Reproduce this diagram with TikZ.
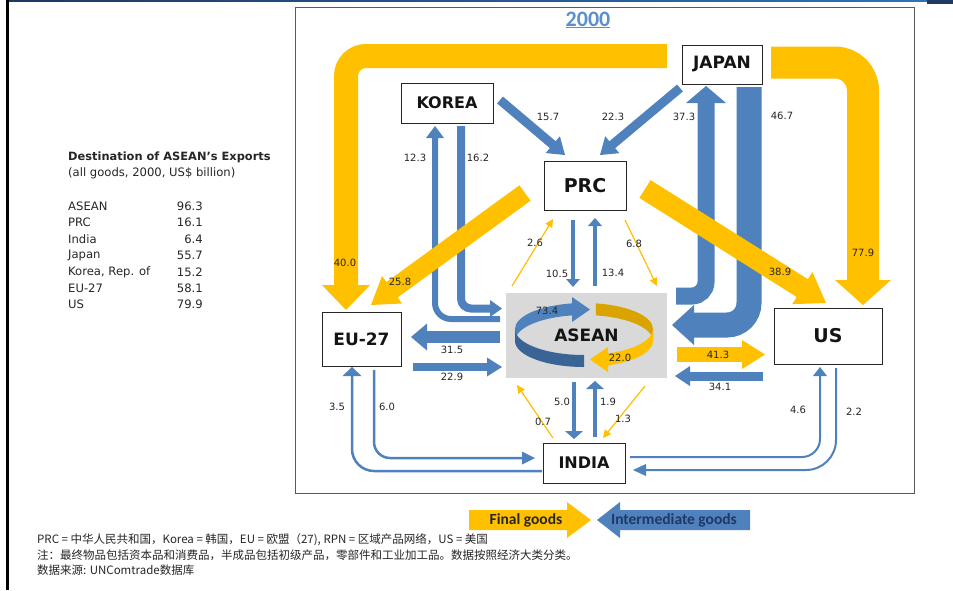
\documentclass[tikz,border=0pt]{standalone}
\usepackage{fontspec}
\setmainfont{DejaVu Sans}
\newfontfamily\calfont{Carlito}
\newfontfamily\cjk{Noto Sans CJK SC}
\usetikzlibrary{calc}
\definecolor{yel}{HTML}{FFC000}
\definecolor{yelD}{HTML}{D9A300}
\definecolor{blu}{HTML}{4F81BD}
\definecolor{bluD}{HTML}{3B6496}
\definecolor{grayA}{HTML}{D9D9D9}
\definecolor{txt}{HTML}{262626}
\definecolor{navy}{HTML}{1F3864}
\definecolor{topblue}{HTML}{2E75B6}
\definecolor{titleblue}{HTML}{5B8FD0}
% arrow head: colour, tip, point it comes from, half width, length
\newcommand\ahead[5]{\fill[#1] (#2) -- ($(#2)!#5!(#3)!#4!90:(#2)$) -- ($(#2)!#5!(#3)!#4!-90:(#2)$) -- cycle;}
\begin{document}
\begin{tikzpicture}[x=1pt,y=-1pt,
  num/.style={font=\fontsize{10}{12}\selectfont, text=txt, inner sep=0pt},
  box/.style={draw=black!85, line width=0.9pt, fill=white, text=black!92, inner sep=0pt},
  lgd/.style={font=\fontsize{11.6}{14}\selectfont, text=txt, inner sep=0pt},
  note/.style={anchor=west, font=\cjk\fontsize{11.5}{13}\selectfont, text=black!85, inner sep=0pt}]
\useasboundingbox (0,0) rectangle (953,590);
\fill[white] (0,0) rectangle (953,590);
% page decorations
\shade[left color=navy, right color=topblue] (7,0) rectangle (953,1.6);
\fill[navy] (7,0) rectangle (62,2.4);
\fill[navy] (927,0) rectangle (953,3.5);
\fill[black] (6,0) rectangle (8.5,590);
% main frame
\draw[black!65, line width=1pt] (295,7.5) rectangle (914,493);
\node[font=\calfont\fontsize{22}{26}\selectfont\bfseries, text=titleblue, inner sep=0pt] (title) at (588,20) {\underline{2000}};

% nodes
\node[box, minimum width=80pt, minimum height=39pt, font=\fontsize{17}{20}\selectfont\bfseries] (japan) at (722,64.5) {JAPAN};
\node[box, minimum width=92pt, minimum height=40pt, font=\fontsize{16}{20}\selectfont\bfseries] (korea) at (447,103) {KOREA};
\node[box, minimum width=82pt, minimum height=49pt, font=\fontsize{19}{22}\selectfont\bfseries] (prc) at (585,185.5) {PRC};
\node[box, minimum width=79pt, minimum height=54pt, font=\fontsize{17}{20}\selectfont\bfseries] (eu) at (361.5,339) {EU-27};
\node[box, minimum width=108pt, minimum height=56pt, font=\fontsize{19}{22}\selectfont\bfseries] (us) at (828,336) {US};
\node[box, minimum width=82pt, minimum height=40pt, font=\fontsize{16}{20}\selectfont\bfseries] (india) at (584,463) {INDIA};
\node[fill=grayA, minimum width=161pt, minimum height=85pt, inner sep=0pt] (asean) at (586.5,335.5) {};

% ASEAN ribbon
\coordinate (rc) at (584,329);
\fill[blu] ($(rc)+(100:69pt and 26pt)$) arc[start angle=100,end angle=180,x radius=69pt,y radius=26pt] -- ++(0pt,-12pt) arc[start angle=180,end angle=100,x radius=69pt,y radius=26pt] -- cycle;
\fill[bluD] ($(rc)+(180:69pt and 26pt)$) arc[start angle=180,end angle=270,x radius=69pt,y radius=26pt] -- ++(0pt,-12pt) arc[start angle=270,end angle=180,x radius=69pt,y radius=26pt] -- cycle;
\fill[blu] (572,297) -- (590,309.5) -- (572,322) -- cycle;
\fill[yelD] ($(rc)+(80:69pt and 26pt)$) arc[start angle=80,end angle=0,x radius=69pt,y radius=26pt] -- ++(0pt,-12pt) arc[start angle=0,end angle=80,x radius=69pt,y radius=26pt] -- cycle;
\fill[yel] ($(rc)+(0:69pt and 26pt)$) arc[start angle=0,end angle=-70,x radius=69pt,y radius=26pt] -- ++(0pt,-12pt) arc[start angle=-70,end angle=0,x radius=69pt,y radius=26pt] -- cycle;
\fill[yel] (608,347) -- (590,359.5) -- (608,372) -- cycle;
\node[font=\fontsize{17}{20}\selectfont\bfseries, text=black!92, inner sep=0pt] (aseanlbl) at (586.5,335) {ASEAN};

% ---- blue (intermediate goods) arrows
% Japan <-> ASEAN
\draw[blu, line width=17pt, rounded corners=14pt] (676,296) -- (706,296) -- (706,102);
\ahead{blu}{706,86}{706,150}{20pt}{17pt}
\draw[blu, line width=25pt, rounded corners=22pt] (749,87) -- (749,325) -- (693,325);
\ahead{blu}{672,325}{720,325}{20pt}{22pt}
% Korea -> PRC, Japan -> PRC
\draw[blu, line width=9pt] (500,100) -- ($(565,155)!15pt!(500,100)$);
\ahead{blu}{565,155}{500,100}{11pt}{16pt}
\draw[blu, line width=9pt] (680,88) -- ($(600,155)!15pt!(680,88)$);
\ahead{blu}{600,155}{680,88}{11pt}{16pt}
% Korea <-> ASEAN
\draw[blu, line width=8pt, rounded corners=10pt] (461,126) -- (461,308.5) -- (491,308.5);
\ahead{blu}{502,308.5}{470,308.5}{8.5pt}{12pt}
\draw[blu, line width=6pt, rounded corners=16pt] (500,319) -- (435,319) -- (435,137);
\ahead{blu}{435,126}{435,200}{9pt}{12pt}
% PRC <-> ASEAN
\draw[blu, line width=4.5pt] (573,220) -- (573,280);
\ahead{blu}{573,287}{573,250}{7pt}{8pt}
\draw[blu, line width=4.5pt] (595,286) -- (595,226);
\ahead{blu}{595,218}{595,250}{7pt}{8pt}
% EU <-> ASEAN
\draw[blu, line width=12pt] (500,337) -- (427,337);
\ahead{blu}{411,337}{450,337}{13.5pt}{16pt}
\draw[blu, line width=8.5pt] (413,367) -- (488,367);
\ahead{blu}{502,367}{450,367}{9.5pt}{15pt}
% US -> ASEAN
\draw[blu, line width=9pt] (763,376) -- (689,376);
\ahead{blu}{675,376}{720,376}{10pt}{15pt}
% India <-> ASEAN
\draw[blu, line width=3.5pt] (574,382) -- (574,432);
\ahead{blu}{574,439}{574,400}{9pt}{8pt}
\draw[blu, line width=3.5pt] (595,437) -- (595,388);
\ahead{blu}{595,381}{595,420}{9pt}{8pt}
% EU <-> India
\draw[blu, line width=2.5pt, rounded corners=16pt] (374,370) -- (374,458) -- (523,458);
\ahead{blu}{535,458}{500,458}{6.5pt}{13pt}
\draw[blu, line width=2.5pt, rounded corners=22pt] (542,471) -- (352,471) -- (352,375);
\ahead{blu}{352,367}{352,400}{9.5pt}{9pt}
% US <-> India
\draw[blu, line width=2pt, rounded corners=18pt] (630,457) -- (820,457) -- (820,375);
\ahead{blu}{820,367}{820,400}{7pt}{9pt}
\draw[blu, line width=2pt, rounded corners=30pt] (836,368) -- (836,470) -- (645,470);
\ahead{blu}{633,470}{660,470}{6pt}{13pt}

% ---- yellow (final goods) arrows
\draw[yel, line width=24pt, rounded corners=20pt] (667,56) -- (346,56) -- (346,286);
\ahead{yel}{346,310}{346,250}{24pt}{25pt}
\draw[yel, line width=32pt, rounded corners=28pt] (771,62.5) -- (863,62.5) -- (863,281);
\ahead{yel}{863,305}{863,250}{28pt}{25pt}
\draw[yel, line width=21pt] (645,189) -- ($(826,303)!27pt!(645,189)$);
\ahead{yel}{826,303}{645,189}{19pt}{28pt}
\draw[yel, line width=19pt] (525,193) -- ($(371,305)!25pt!(525,193)$);
\ahead{yel}{371,305}{525,193}{17pt}{26pt}
\draw[yel, line width=15pt] (677,354.5) -- (743,354.5);
\ahead{yel}{765,354.5}{700,354.5}{14.5pt}{23pt}
% thin yellow
\draw[yel, line width=1.2pt] (512,286) -- ($(553,219)!6pt!(512,286)$);
\ahead{yel}{553,219}{512,286}{4pt}{8pt}
\draw[yel, line width=1.2pt] (625,220) -- ($(657,286)!6pt!(625,220)$);
\ahead{yel}{657,286}{625,220}{4pt}{8pt}
\draw[yel, line width=1.2pt] (553,438) -- ($(517,385)!6pt!(553,438)$);
\ahead{yel}{517,385}{553,438}{4pt}{8pt}
\draw[yel, line width=1.2pt] (645,386) -- ($(603,438)!6pt!(645,386)$);
\ahead{yel}{603,438}{645,386}{4pt}{8pt}

% ---- value labels
\node[num] (v157) at (548,117) {15.7};
\node[num] (v223) at (613,117) {22.3};
\node[num] (v373) at (684,117) {37.3};
\node[num] (v467) at (782,116) {46.7};
\node[num] (v123) at (415,158) {12.3};
\node[num] (v162) at (478,158) {16.2};
\node[num] (v26) at (535,243) {2.6};
\node[num] (v68) at (634,244) {6.8};
\node[num] (v105) at (557,274) {10.5};
\node[num] (v134) at (613,273) {13.4};
\node[num] (v400) at (345,263) {40.0};
\node[num] (v258) at (400,282) {25.8};
\node[num] (v389) at (780,272) {38.9};
\node[num] (v779) at (863,253) {77.9};
\node[num] (v734) at (547,311) {73.4};
\node[num] (v220) at (620,358) {22.0};
\node[num] (v315) at (452,350) {31.5};
\node[num] (v229) at (452,377) {22.9};
\node[num] (v413) at (718,355) {41.3};
\node[num] (v341) at (720,387) {34.1};
\node[num] (v35) at (337,407) {3.5};
\node[num] (v60) at (387,407) {6.0};
\node[num] (v50) at (562,402) {5.0};
\node[num] (v19) at (608,402) {1.9};
\node[num] (v07) at (543,422) {0.7};
\node[num] (v13) at (623,419) {1.3};
\node[num] (v46) at (798,410) {4.6};
\node[num] (v22) at (854,412) {2.2};

% ---- left legend
\node[lgd, anchor=west, font=\fontsize{11.4}{14}\selectfont\bfseries] (lg0) at (68,157) {Destination of ASEAN's Exports};
\node[lgd, anchor=west] (lg1) at (68,173) {(all goods, 2000, US\$ billion)};
\node[lgd, anchor=west] (la1) at (68,206) {ASEAN};
\node[lgd, anchor=east] (lb1) at (203,206) {96.3};
\node[lgd, anchor=west] (la2) at (68,222) {PRC};
\node[lgd, anchor=east] (lb2) at (203,222) {16.1};
\node[lgd, anchor=west] (la3) at (68,239) {India};
\node[lgd, anchor=east] (lb3) at (203,239) {6.4};
\node[lgd, anchor=west] (la4) at (68,255) {Japan};
\node[lgd, anchor=east] (lb4) at (203,255) {55.7};
\node[lgd, anchor=west] (la5) at (68,272) {Korea, Rep. of};
\node[lgd, anchor=east] (lb5) at (203,272) {15.2};
\node[lgd, anchor=west] (la6) at (68,288) {EU-27};
\node[lgd, anchor=east] (lb6) at (203,288) {58.1};
\node[lgd, anchor=west] (la7) at (68,304) {US};
\node[lgd, anchor=east] (lb7) at (203,304) {79.9};

% ---- key arrows
\fill[yel] (469,510) -- (567,510) -- (567,502) -- (591,520) -- (567,538) -- (567,530) -- (469,530) -- cycle;
\node[font=\calfont\fontsize{15.5}{17}\selectfont\bfseries, text=txt, inner sep=0pt] (kfinal) at (526,520) {Final goods};
\fill[blu] (750,510) -- (620,510) -- (620,502) -- (597,520) -- (620,538) -- (620,530) -- (750,530) -- cycle;
\node[font=\calfont\fontsize{15.5}{17}\selectfont\bfseries, text=navy, inner sep=0pt] (kinter) at (674,520) {Intermediate goods};

% ---- notes
\node[note] (note1) at (37,540) {PRC = 中华人民共和国，Korea = 韩国，EU = 欧盟（27), RPN = 区域产品网络，US = 美国};
\node[note] (note2) at (37,555) {注：最终物品包括资本品和消费品，半成品包括初级产品，零部件和工业加工品。数据按照经济大类分类。};
\node[note] (note3) at (37,570) {数据来源: UNComtrade数据库};
\end{tikzpicture}
\end{document}
